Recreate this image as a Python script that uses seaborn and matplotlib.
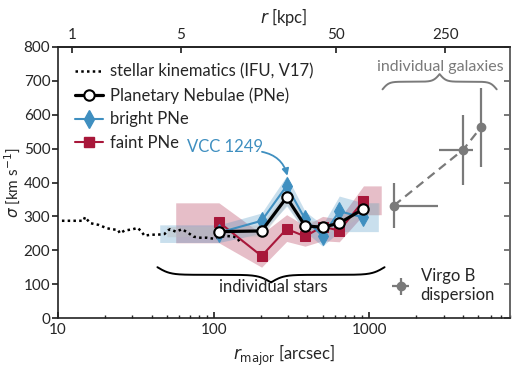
import numpy as np
import matplotlib
matplotlib.use("Agg")
import matplotlib.pyplot as plt
import seaborn as sns
from matplotlib.lines import Line2D

# stellar kinematics (IFU, V17)
star_r = [10.6, 12.6, 14.6, 14.9, 16.1, 18.2, 20.6, 22.3, 24.3, 25.0, 26.7, 30.2,
          32.5, 34.4, 35.9, 39.6, 43.8, 48.3, 51.1, 52.5, 57.0, 62.6, 67.7, 74.3,
          82.0, 90.5, 100.0, 110.0, 122.0, 135.0, 142.0, 147.0, 152.0]
star_s = [287, 287, 287, 298, 280, 275, 265, 262, 260, 250, 258, 262,
          266, 255, 243, 246, 246, 248, 259, 262, 255, 262, 253, 240,
          237, 237, 234, 240, 242, 240, 236, 224, 226]

# PNe bins
pn_r = [108, 203, 294, 386, 500, 640, 915]
all_s = [255, 257, 356, 272, 268, 280, 322]
all_lo = [240, 240, 335, 255, 250, 262, 305]
all_hi = [270, 275, 375, 290, 285, 298, 340]
bright_s = [252, 287, 390, 292, 242, 315, 297]
bright_lo = [223, 250, 330, 255, 212, 255, 255]
bright_hi = [275, 310, 420, 315, 275, 360, 340]
faint_s = [283, 183, 263, 241, 270, 258, 346]
faint_lo = [222, 150, 226, 212, 228, 225, 305]
faint_hi = [340, 248, 305, 272, 300, 292, 390]
bright_edges = [45, 1140]
faint_edges = [57, 1190]
all_edges = [50, 1160]

# Virgo B dispersion
vir_r = [1435, 4000, 5200]
vir_s = [332, 497, 563]
vir_xlo = [0, 1220, 0]
vir_xhi = [1320, 600, 0]
vir_ylo = [67, 104, 117]
vir_yhi = [66, 103, 117]

ARCSEC_TO_KPC = 0.0815
BLUE = "#3f8fc0"
RED = "#a8173a"
GREY = "#7a7a7a"
FS = 12
TFS = 11

sns.set_theme(style="ticks")
plt.rcParams["font.family"] = ["Lato", "DejaVu Sans"]
plt.rcParams["mathtext.fontset"] = "dejavusans"

fig = plt.figure(figsize=(5.2, 3.7), dpi=100)
ax = fig.add_axes([0.1115, 0.1405, 0.8695, 0.7325])


def band(x, lo, hi, edges, color, alpha):
    xx = [edges[0]] + list(x) + [edges[1]]
    ll = [lo[0]] + list(lo) + [lo[-1]]
    hh = [hi[0]] + list(hi) + [hi[-1]]
    ax.fill_between(xx, ll, hh, color=color, alpha=alpha, lw=0)


band(pn_r, faint_lo, faint_hi, faint_edges, RED, 0.28)
band(pn_r, bright_lo, bright_hi, bright_edges, BLUE, 0.28)
band(pn_r, all_lo, all_hi, all_edges, "#bbbbbb", 0.4)

sns.lineplot(x=star_r, y=star_s, ax=ax, color="black", ls=(0, (1, 1.3)), lw=1.8,
             sort=False, estimator=None)
sns.lineplot(x=pn_r, y=faint_s, ax=ax, color=RED, lw=1.5, marker="s", ms=7.5,
             mec=RED, sort=False, estimator=None, zorder=4)
sns.lineplot(x=pn_r, y=bright_s, ax=ax, color=BLUE, lw=1.5, marker="d", ms=9,
             mec=BLUE, sort=False, estimator=None, zorder=5)
sns.lineplot(x=pn_r, y=all_s, ax=ax, color="black", lw=2.3, marker="o", ms=7.5,
             mfc="white", mec="black", mew=1.5, sort=False, estimator=None, zorder=6)

ax.plot(vir_r, vir_s, color=GREY, ls="--", lw=1.6, dashes=(4, 2.5))
eb = ax.errorbar(vir_r, vir_s, xerr=[vir_xlo, vir_xhi], yerr=[vir_ylo, vir_yhi],
                 fmt="o", color=GREY, ms=6, elinewidth=1.6, capsize=0)

ax.set_xscale("log")
ax.set_xlim(10, 8000)
ax.set_ylim(0, 800)
ax.set_yticks(np.arange(0, 801, 100))
ax.set_xticks([10, 100, 1000])
ax.set_xticklabels(["10", "100", "1000"])
ax.tick_params(axis="x", which="both", direction="in", top=False, labelsize=TFS)
ax.tick_params(axis="x", which="major", length=4)
ax.tick_params(axis="x", which="minor", length=2.5)
ax.tick_params(axis="y", which="both", direction="out", left=True, labelsize=TFS,
               length=4, pad=1.5)
ax.set_xlabel(r"$r_\mathrm{major}$ [arcsec]", fontsize=FS)
ax.set_ylabel(r"$\sigma$ [km s$^{-1}$]", fontsize=11)
ax.yaxis.set_label_coords(-0.08, 0.5)

for s in ax.spines.values():
    s.set_color("#222222")
    s.set_linewidth(1.2)
ax.spines["right"].set_color("#666666")

# right ticks inward
ry = ax.secondary_yaxis("right")
ry.set_yticks(np.arange(0, 801, 100))
ry.tick_params(direction="in", length=4, labelright=False, color="#666666")
ry.spines["right"].set_color("#666666")

top = ax.secondary_xaxis("top", functions=(lambda a: a * ARCSEC_TO_KPC,
                                           lambda k: k / ARCSEC_TO_KPC))
top.set_xticks([1, 5, 50, 250])
top.set_xticklabels(["1", "5", "50", "250"])
top.xaxis.set_minor_locator(matplotlib.ticker.NullLocator())
top.tick_params(direction="in", length=4, labelsize=TFS)
top.set_xlabel(r"$r$ [kpc]", fontsize=FS)


def brace(x0, x1, y, h, color, lw):
    l0, l1 = np.log10(x0), np.log10(x1)
    n = 150
    half = np.linspace(0, 1, n)
    beta = 18.0
    a = 1 / (1 + np.exp(-beta * (half - half[0]))) + \
        1 / (1 + np.exp(-beta * (half - half[-1])))
    yy = np.concatenate([a, a[-2::-1]])
    xx = np.linspace(l0, l1, len(yy))
    ax.plot(10 ** xx, y + h * (yy - 0.5), color=color, lw=lw, clip_on=False)


brace(43.5, 1250, 150, -45, "black", 1.4)
ax.text(240, 93, "individual stars", ha="center", va="center", fontsize=FS)
brace(1213, 6560, 675, 45, GREY, 1.4)
ax.text(2850, 742, "individual galaxies", ha="center", va="center", fontsize=11.5,
        color=GREY)

ax.text(118, 505, "VCC 1249", ha="center", va="center", fontsize=FS, color=BLUE)
ax.annotate("", xy=(300, 412), xytext=(196, 492),
            arrowprops=dict(arrowstyle="-|>", color=BLUE, lw=1.3,
                            connectionstyle="arc3,rad=-0.35", mutation_scale=10))

handles = [
    Line2D([], [], color="black", ls=(0, (1, 1.3)), lw=1.8),
    Line2D([], [], color="black", lw=2.3, marker="o", ms=7.5, mfc="white", mew=1.5),
    Line2D([], [], color=BLUE, lw=1.5, marker="d", ms=9),
    Line2D([], [], color=RED, lw=1.5, marker="s", ms=7.5),
]
labels = ["stellar kinematics (IFU, V17)", "Planetary Nebulae (PNe)",
          "bright PNe", "faint PNe"]
leg = ax.legend(handles, labels, loc="upper left", frameon=False, fontsize=FS,
                handlelength=1.7, handletextpad=0.4, borderaxespad=0.6,
                labelspacing=0.45)
ax.add_artist(leg)
ax.legend([eb], ["Virgo B\ndispersion"], loc="lower right", frameon=False,
          fontsize=FS, handlelength=1.2, handletextpad=0.6)

fig.savefig("out.png", dpi=100)
